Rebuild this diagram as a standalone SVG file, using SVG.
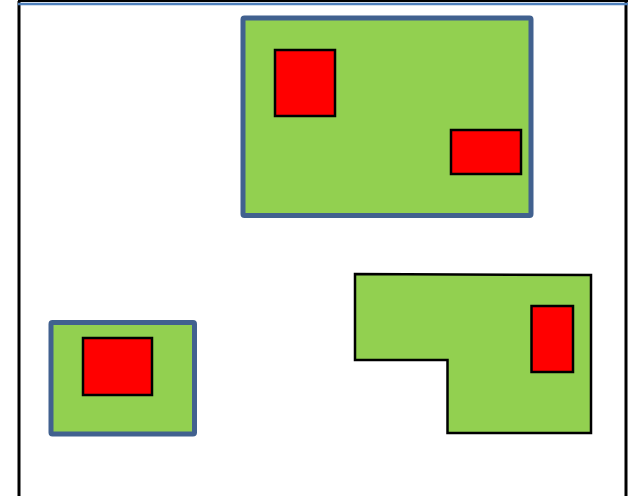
<svg xmlns="http://www.w3.org/2000/svg" width="628" height="496" viewBox="0 0 628 496">
<style>
.area{fill:#92D050;stroke:#41618F;stroke-width:5;stroke-linejoin:round}
.lshape{fill:#92D050;stroke:#000;stroke-width:2.5}
.box{fill:#FF0000;stroke:#000;stroke-width:2.5}
</style>
<rect width="628" height="496" fill="#fff"/>
<g id="frame">
<line x1="19" y1="1" x2="19" y2="496" stroke="#000" stroke-width="3"/>
<line x1="626" y1="1" x2="626" y2="496" stroke="#000" stroke-width="3"/>
<line x1="18" y1="1" x2="628" y2="1" stroke="#000" stroke-width="2"/>
<line x1="18" y1="4" x2="628" y2="4" stroke="#4F81BD" stroke-width="2.5"/>
</g>
<g id="area-top">
<rect class="area" x="243" y="18" width="288" height="197.5" rx="1.5"/>
</g>
<g id="box-top-left"><rect class="box" x="275" y="50" width="60" height="66"/></g>
<g id="box-top-right"><rect class="box" x="451" y="130" width="70" height="44"/></g>
<g id="area-left">
<rect class="area" x="51" y="322.5" width="143.5" height="111.5" rx="1.5"/>
</g>
<g id="box-left"><rect class="box" x="83" y="338" width="69" height="57"/></g>
<g id="area-l">
<path class="lshape" d="M355 274 L591 275 L591 433 L447.5 433 L447.5 360 L355 360 Z"/>
</g>
<g id="box-l"><rect class="box" x="531.5" y="306" width="41.5" height="66"/></g>
<g id="connectors"></g>
</svg>
